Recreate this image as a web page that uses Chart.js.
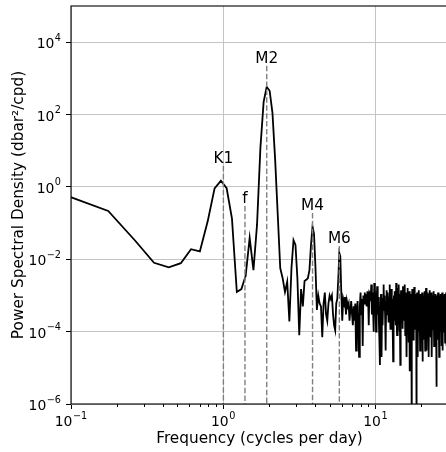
<!DOCTYPE html>
<html>
<head>
<meta charset="utf-8">
<script src="https://cdn.jsdelivr.net/npm/chart.js@4.4.0/dist/chart.umd.min.js"></script>
<style>
  html, body { margin: 0; padding: 0; overflow: hidden; background: #fff; }
  #wrap { width: 452px; height: 452px; }
</style>
</head>
<body>
<div id="wrap"><canvas id="psdChart" width="452" height="452"></canvas></div>
<script>
// --- frequency grid (cycles per day), spacing of the spectral estimate ---
const df = 0.0878;

// --- PSD values (dbar^2/cpd), one per frequency bin ---
// low band: bins 1..36 (K1, f, M2 region)
const psdLow = [
  0.63, 0.217, 0.033, 8.0e-3, 6.0e-3, 7.8e-3, 0.019, 0.0165, 0.11, 0.91,
  1.49, 0.92, 0.136, 1.25e-3, 1.5e-3, 3.5e-3, 0.039, 5.0e-3, 0.089, 12,
  224, 585, 455, 112, 5.6, 0.17, 5.7e-3, 3.0e-3, 1.25e-3, 2.4e-3,
  1.9e-4, 5.7e-3, 0.034, 0.025, 3.0e-3, 8e-5
];
// mid band: bins 37..114 (M4, M6 region)
const psdMid = [
  1.5e-3, 5e-4, 2.5e-3, 2.7e-3, 3e-3, 5e-3, 0.025, 0.08, 0.05, 6e-3,
  4e-4, 1.0e-3, 6e-4, 5e-4, 7e-5, 6e-4, 1.2e-3, 3e-4, 2e-4, 6e-4,
  1e-3, 8e-4, 1e-3, 3e-4, 1.5e-4, 1.1e-4, 6e-4, 8e-4, 3e-3, 0.015,
  0.012, 1.2e-3, 2e-4, 8e-4, 6e-4, 9e-4, 3e-4, 7e-4, 5e-4, 6e-4,
  2e-4, 4e-4, 7e-4, 3e-4, 1.5e-4, 5e-4, 2e-4, 6e-4, 3e-5, 4e-4,
  7e-4, 1.5e-4, 2e-5, 5e-4, 1.2e-3, 3e-4, 8e-4, 4e-5, 1e-3, 6e-4,
  1.2e-3, 8e-4, 1.1e-3, 5e-4, 1.3e-3, 9e-4, 1.5e-4, 1.2e-3, 1.1e-3, 7e-4,
  2e-3, 3e-4, 1.2e-3, 4e-4, 1e-4, 2.2e-3, 1.5e-3, 8e-4
];
// high band: bins 115..342 (noise floor)
const psdHigh = [
  1e-4, 6e-4, 1.8e-3, 3e-4, 9e-4, 2e-4, 6e-5, 1.2e-5, 3e-4, 1.1e-3, 2e-5, 5e-4,
  1.5e-4, 8e-4, 2e-3, 4e-4, 1e-3, 2.5e-4, 3e-5, 6e-4, 1.4e-3, 3e-4, 1.2e-3, 6e-4,
  1.8e-4, 9e-4, 2e-3, 7e-4, 1.2e-4, 5e-4, 1.5e-3, 3e-4, 8e-4, 1.2e-4, 1.5e-5, 6e-4,
  1e-3, 2e-4, 1.3e-3, 7e-4, 1.5e-4, 2.2e-3, 3e-4, 8e-5, 6e-4, 1.6e-3, 5e-4, 2e-3,
  4e-4, 1e-4, 1.1e-3, 1.2e-5, 7e-4, 1.4e-3, 2e-4, 9e-4, 5e-4, 1.2e-4, 1.8e-3, 6e-4,
  2e-4, 1e-3, 4e-4, 2e-3, 8e-5, 6e-4, 1.2e-3, 2.5e-4, 2e-5, 8e-4, 1.6e-3, 3e-4,
  9e-4, 5e-5, 7e-4, 1.3e-3, 3e-4, 8e-6, 6e-4, 1.1e-3, 2e-4, 8e-4, 1e-7, 5e-4,
  1.5e-3, 3e-4, 9e-4, 6e-5, 1e-3, 4e-4, 1.7e-3, 2e-4, 7e-4, 1.2e-4, 1.1e-3, 3e-4,
  6e-4, 1e-7, 4e-4, 1.2e-3, 2e-4, 8e-4, 2e-5, 1e-3, 3e-4, 1.4e-3, 6e-4, 1e-4,
  7e-4, 3e-5, 5e-4, 1.1e-3, 2e-4, 9e-4, 4e-4, 1.5e-4, 1.2e-3, 5e-4, 1.5e-5, 8e-4,
  3e-4, 1e-3, 6e-5, 7e-4, 1.3e-3, 2e-4, 5e-4, 3e-5, 1e-3, 4e-4, 1.6e-3, 2e-4,
  6e-4, 3e-5, 9e-4, 4e-4, 1.2e-3, 1e-4, 7e-4, 3e-4, 1.1e-3, 2e-5, 8e-4, 2e-4,
  5e-4, 1.4e-3, 3e-4, 7e-5, 9e-4, 4e-4, 1.2e-3, 1.5e-4, 6e-4, 2e-5, 1e-3, 3e-4,
  7e-4, 1.1e-4, 5e-4, 1.3e-3, 2e-4, 8e-4, 4e-5, 6e-4, 1e-3, 2.5e-4, 9e-4, 1.2e-4,
  5e-4, 1.1e-3, 3e-4, 7e-4, 3e-6, 4e-4, 1e-3, 2e-4, 8e-4, 6e-5, 6e-4, 1.2e-3,
  3e-4, 9e-4, 1.5e-4, 5e-4, 2e-5, 7e-4, 1e-3, 3e-4, 8e-4, 1e-4, 6e-4, 1.1e-3,
  2e-4, 7e-4, 4e-5, 5e-4, 9e-4, 3e-4, 1.2e-3, 1.5e-4, 6e-4, 3e-5, 8e-4, 4e-4,
  1e-3, 2e-4, 7e-4, 1e-4, 5e-4, 1.1e-3, 3e-4, 8e-4, 5e-5, 6e-4, 1e-3, 3e-4,
  5e-4, 1.2e-3, 2e-4, 7e-4, 4e-5, 9e-4, 3e-4, 6e-4, 1e-4, 1e-3, 4e-4, 7e-4
];

// --- tidal constituents and label levels ---
const tideNames = ['K1', 'f', 'M2', 'M4', 'M6'];
const tideFreqs = [1.0027, 1.39, 1.9323, 3.8645, 5.7968];
const tideLabelLevels = [4.6, 0.36, 2700, 0.23, 0.028];

// --- ticks ---
const xMajorTicks = [0.1, 1, 10];
const xMinorTicks = [0.2, 0.3, 0.4, 0.5, 0.6, 0.7, 0.8, 0.9, 2, 3, 4, 5, 6, 7, 8, 9, 20];
const yMajorTicks = [1e-6, 1e-4, 1e-2, 1, 1e2, 1e4];

const SUP = { '-': '\u2212' };
function exponentText(v) {
  const e = Math.round(Math.log10(v));
  return String(e).split('').map(c => SUP[c] || c).join('');
}

const psd = psdLow.concat(psdMid, psdHigh);
const points = psd.map((v, i) => ({ x: (i + 1) * df, y: v }));

Chart.defaults.font.family = '"DejaVu Sans", sans-serif';
Chart.defaults.font.size = 13.9;
Chart.defaults.color = '#000';

const BASE_FONT = '13.9px "DejaVu Sans"';
const EXP_FONT = '9.7px "DejaVu Sans"';

// draws "10" with a raised exponent; anchor 'right' or 'center'
function drawPower(ctx, v, x, baseline, anchor) {
  const exp = exponentText(v);
  ctx.font = BASE_FONT;
  const wBase = ctx.measureText('10').width;
  ctx.font = EXP_FONT;
  const wExp = ctx.measureText(exp).width;
  const total = wBase + wExp + 0.5;
  const x0 = anchor === 'right' ? x - total : x - total / 2;
  ctx.textAlign = 'left';
  ctx.textBaseline = 'alphabetic';
  ctx.font = BASE_FONT;
  ctx.fillText('10', x0, baseline);
  ctx.font = EXP_FONT;
  ctx.fillText(exp, x0 + wBase + 0.5, baseline - 7.5);
}

// --- dashed constituent lines, labels, tick labels, minor ticks and frame ---
const decorations = {
  id: 'decorations',
  afterDatasetsDraw(chart) {
    const { ctx, chartArea: a, scales: { x, y } } = chart;
    ctx.save();
    ctx.strokeStyle = '#808080';
    ctx.lineWidth = 1.4;
    ctx.setLineDash([5.5, 2.4]);
    tideNames.forEach((name, i) => {
      const px = x.getPixelForValue(tideFreqs[i]);
      const py = y.getPixelForValue(tideLabelLevels[i]);
      ctx.beginPath();
      ctx.moveTo(px, py + 3);
      ctx.lineTo(px, a.bottom);
      ctx.stroke();
    });
    ctx.setLineDash([]);
    ctx.fillStyle = '#000';
    ctx.font = '15.3px "DejaVu Sans"';
    ctx.textAlign = 'center';
    ctx.textBaseline = 'alphabetic';
    tideNames.forEach((name, i) => {
      ctx.fillText(name, x.getPixelForValue(tideFreqs[i]), y.getPixelForValue(tideLabelLevels[i]));
    });

    // tick labels
    xMajorTicks.forEach(v => drawPower(ctx, v, x.getPixelForValue(v), a.bottom + 22, 'center'));
    yMajorTicks.forEach(v => drawPower(ctx, v, a.left - 10, y.getPixelForValue(v) + 6, 'right'));

    ctx.strokeStyle = '#000';
    ctx.lineWidth = 1;
    ctx.beginPath();
    xMinorTicks.forEach(v => {
      const px = Math.round(x.getPixelForValue(v)) + 0.5;
      ctx.moveTo(px, a.bottom);
      ctx.lineTo(px, a.bottom + 3);
    });
    ctx.stroke();

    ctx.lineWidth = 1.1;
    ctx.strokeRect(a.left, a.top, a.right - a.left, a.bottom - a.top);
    ctx.restore();
  }
};

const ctx = document.getElementById('psdChart').getContext('2d');
window.psdChart = new Chart(ctx, {
  type: 'line',
  data: {
    datasets: [{
      data: points,
      borderColor: '#000',
      borderWidth: 1.8,
      pointRadius: 0,
      tension: 0,
      fill: false
    }]
  },
  options: {
    responsive: false,
    animation: false,
    layout: { padding: { top: 6, right: 4, left: 0, bottom: 0 } },
    plugins: { legend: { display: false }, tooltip: { enabled: false } },
    scales: {
      x: {
        type: 'logarithmic',
        min: 0.1,
        max: 30,
        afterBuildTicks: s => { s.ticks = xMajorTicks.concat(xMinorTicks).sort((a, b) => a - b).map(v => ({ value: v })); },
        afterFit: s => { s.height = 48; s.paddingLeft = 0; s.paddingRight = 0; },
        border: { display: false },
        grid: {
          color: c => xMajorTicks.includes(c.tick.value) ? '#c4c4c4' : 'rgba(0,0,0,0)',
          tickColor: c => xMajorTicks.includes(c.tick.value) ? '#000' : 'rgba(0,0,0,0)',
          tickLength: 5,
          lineWidth: 1
        },
        ticks: { display: false, autoSkip: false, maxRotation: 0, minRotation: 0 },
        title: {
          display: true,
          text: 'Frequency (cycles per day)',
          font: { size: 15.3 },
          padding: { top: 0, bottom: 4.0 }
        }
      },
      y: {
        type: 'logarithmic',
        min: 1e-6,
        max: 1e5,
        afterBuildTicks: s => { s.ticks = yMajorTicks.map(v => ({ value: v })); },
        afterFit: s => { s.width = 71; s.paddingTop = 0; s.paddingBottom = 0; },
        border: { display: false },
        grid: { color: '#c4c4c4', tickColor: '#000', tickLength: 5, lineWidth: 1 },
        ticks: { display: false, autoSkip: false },
        title: {
          display: true,
          text: 'Power Spectral Density (dbar\u00B2/cpd)',
          font: { size: 15.3 },
          padding: { top: 9.6, bottom: 0 }
        }
      }
    }
  },
  plugins: [decorations]
});
</script>
</body>
</html>
